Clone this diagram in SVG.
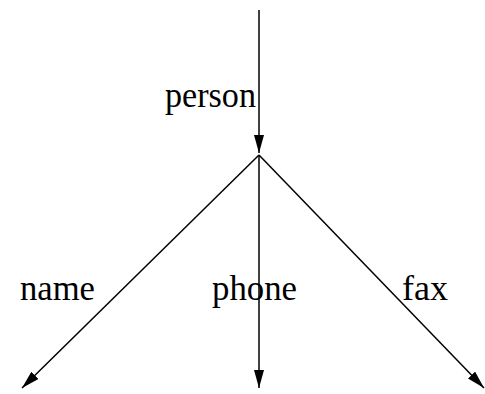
<svg xmlns="http://www.w3.org/2000/svg" width="485" height="394" viewBox="0 0 485 394">
<style>
.e{stroke:#000;stroke-width:1.5;fill:none}
.t{font-family:"Liberation Serif","DejaVu Serif",serif;font-size:36px;fill:#000}
</style>
<defs>
<marker id="a" viewBox="0 0 18 10" refX="18" refY="5" markerWidth="18" markerHeight="10" markerUnits="userSpaceOnUse" orient="auto">
<path d="M0,0 L18,5 L0,10 Z" fill="#000"/>
</marker>
</defs>
<g id="connectors">
<line class="e" x1="259" y1="10" x2="259" y2="153" marker-end="url(#a)"/>
<line class="e" x1="259" y1="155" x2="22" y2="388" marker-end="url(#a)"/>
<line class="e" x1="259" y1="155" x2="259" y2="388" marker-end="url(#a)"/>
<line class="e" x1="259" y1="155" x2="484" y2="388" marker-end="url(#a)"/>
</g>
<g id="labels">
<text class="t" x="165" y="107" textLength="91" lengthAdjust="spacingAndGlyphs">person</text>
<text class="t" x="20" y="300" textLength="75" lengthAdjust="spacingAndGlyphs">name</text>
<text class="t" x="212" y="300" textLength="85" lengthAdjust="spacingAndGlyphs">phone</text>
<text class="t" x="402" y="300" textLength="46" lengthAdjust="spacingAndGlyphs">fax</text>
</g>
</svg>
